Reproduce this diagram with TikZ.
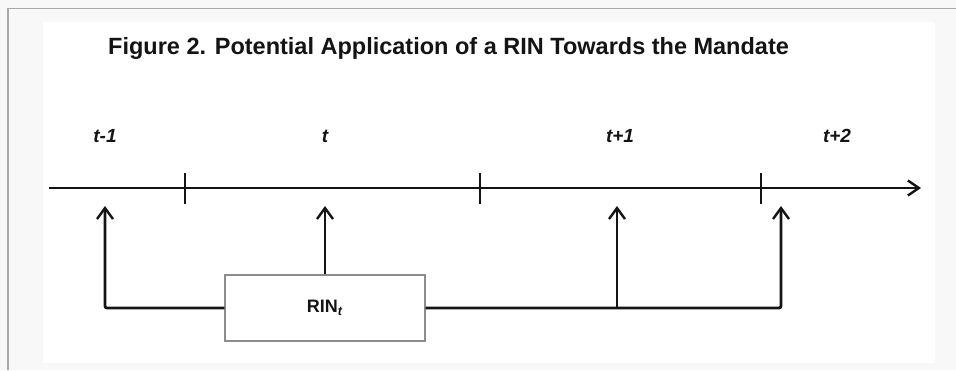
\documentclass[tikz,border=0pt]{standalone}
\usepackage{fontspec}
\setmainfont{Liberation Sans}
\usetikzlibrary{arrows.meta}
\definecolor{outerbg}{HTML}{F8F8F8}
\definecolor{frameline}{HTML}{A8A8A8}
\definecolor{boxline}{HTML}{8C8C8C}
\definecolor{ink}{HTML}{141414}
\tikzset{
  axis/.style={draw=ink, line width=2.8pt, -{Straight Barb[length=11pt,width=15pt,line width=2.4pt]}},
  tick/.style={draw=ink, line width=2.4pt},
  up/.style={draw=ink, line width=2.8pt, rounded corners=2pt, -{Straight Barb[length=11pt,width=16pt,line width=2.4pt]}},
  period/.style={font=\fontsize{19}{21}\selectfont\bfseries\itshape, text=ink, inner sep=0pt},
  rinbox/.style={draw=boxline, line width=1.4pt, fill=white, minimum width=200pt, minimum height=66pt, font=\fontsize{18}{20}\selectfont\bfseries, text=ink, inner sep=0pt},
}
\begin{document}
\begin{tikzpicture}[x=1pt,y=-1pt]
\useasboundingbox (0,0) rectangle (956,370);
\fill[outerbg] (0,0) rectangle (956,370);
\fill[white] (43,22) rectangle (935,363);
\draw[frameline, line width=1.5pt] (8,370) -- (8,8.5) -- (956,8.5);
% title
\node[font=\fontsize{23.5}{26}\selectfont\bfseries, text=ink, anchor=west, inner sep=0pt] (title) at (108,48) {Figure 2. Potential Application of a RIN Towards the Mandate};
% axis
\coordinate (a0) at (49,188);
\coordinate (a1) at (921,188);
\draw[axis] (a0) -- (a1);
\foreach \x/\n in {185/k1,480/k2,761/k3}{
  \coordinate (\n top) at (\x,173);
  \coordinate (\n bot) at (\x,204);
  \draw[tick] (\n top) -- (\n bot);
}
% period labels
\node[period] (p0) at (105,136) {t-1};
\node[period] (p1) at (325,136) {t};
\node[period] (p2) at (620,136) {t+1};
\node[period] (p3) at (837,136) {t+2};
% box
\node[rinbox] (rin) at (325,308) {RIN\textsubscript{\textbf{\textit{t}}}};
% arrow targets
\coordinate (u0) at (105,206);
\coordinate (u1) at (325,206);
\coordinate (u2) at (617,206);
\coordinate (u3) at (781,206);
\coordinate (c0) at (105,308);
\coordinate (c2) at (617,308);
\coordinate (c3) at (781,308);
\draw[up] (rin.west) -- (c0) -- (u0);
\draw[up] (rin.north) -- (u1);
\draw[up] (rin.east) -- (c3) -- (u3);
\draw[up] (c2) -- (u2);
\end{tikzpicture}
\end{document}
